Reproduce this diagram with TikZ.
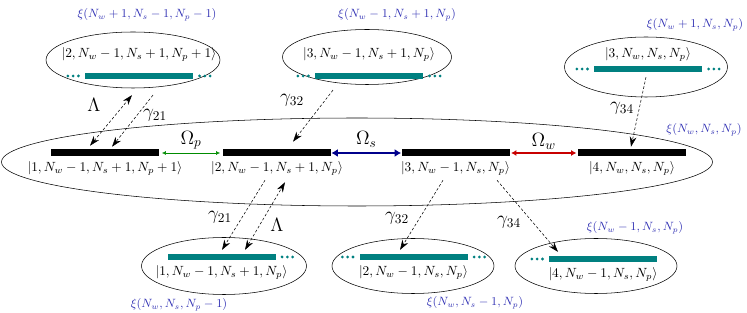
\documentclass[tikz,border=0pt]{standalone}
\usepackage{amsmath,amssymb}
\usepackage{tikz}
\usetikzlibrary{arrows.meta,positioning,shapes}

\definecolor{xiblue}{RGB}{50,50,180}
\definecolor{barteal}{RGB}{0,128,128}
\definecolor{omsnavy}{RGB}{0,0,140}
\definecolor{omwred}{RGB}{200,0,0}
\definecolor{ompgreen}{RGB}{0,140,0}

\begin{document}
\begin{tikzpicture}[x=0.75pt, y=-0.75pt,
    level/.style={rectangle, fill=black, minimum width=81pt, minimum height=5.25pt, inner sep=0pt},
    sub/.style={rectangle, fill=barteal, minimum width=81pt, minimum height=5pt, inner sep=0pt},
    grp/.style={ellipse, draw, inner sep=0pt},
    ket/.style={inner sep=1pt},
    xi/.style={text=xiblue, font=\small},
    dots/.style={minimum width=11pt, minimum height=4pt, inner sep=0pt,
        path picture={\foreach \d in {-1,0,1} \fill[barteal] (path picture bounding box.center) ++(\d*4pt,0) circle (1.15pt);}},
    rate/.style={font=\Large},
    decay/.style={dash pattern=on 2pt off 1.5pt, -{Stealth[length=7.5pt,width=5pt]}},
    pump/.style={dash pattern=on 2pt off 1.5pt, {Stealth[length=7.5pt,width=5pt]}-{Stealth[length=7.5pt,width=5pt]}},
    omp/.style={ompgreen, line width=0.5pt, {Latex[length=3pt,width=3pt]}-{Latex[length=3pt,width=3pt]}, shorten <=2pt, shorten >=2pt},
    oms/.style={omsnavy, line width=2pt, {Latex[length=5pt,width=6pt]}-{Latex[length=5pt,width=6pt]}},
    omw/.style={omwred, line width=1pt, {Latex[length=4pt,width=4.5pt]}-{Latex[length=4pt,width=4.5pt]}, shorten <=1pt, shorten >=1pt}]
    \useasboundingbox (0,0) rectangle (747,313);

    % ellipses
    \node[grp, minimum width=533.25pt, minimum height=66pt] (manifold) at (357,162) {};
    \node[grp, minimum width=130.5pt, minimum height=42pt] (up1) at (133,60) {};
    \node[grp, minimum width=126.75pt, minimum height=41.25pt] (up2) at (367,57) {};
    \node[grp, minimum width=122.25pt, minimum height=45pt] (up3) at (646,67) {};
    \node[grp, minimum width=123.75pt, minimum height=42.75pt] (dn1) at (224,266) {};
    \node[grp, minimum width=121.5pt, minimum height=41.25pt] (dn2) at (413,266) {};
    \node[grp, minimum width=121.5pt, minimum height=41.25pt] (dn3) at (596,266) {};

    % levels of the driven manifold
    \node[level] (lev1) at (105,153) {};
    \node[level] (lev2) at (277,153) {};
    \node[level] (lev3) at (455.5,153) {};
    \node[level] (lev4) at (632,153) {};
    \node[ket, below=2.5pt of lev1] (k1) {$|1,N_w-1,N_s+1,N_p+1\rangle$};
    \node[ket, below=2.5pt of lev2] (k2) {$|2,N_w-1,N_s+1,N_p\rangle$};
    \node[ket, below=2.5pt of lev3] (k3) {$|3,N_w-1,N_s,N_p\rangle$};
    \node[ket, below=2.5pt of lev4] (k4) {$|4,N_w,N_s,N_p\rangle$};
    \draw[omp] (lev1) -- node[rate, above=-1pt, text=black] {$\Omega_p$} (lev2);
    \draw[oms] (lev2) -- node[rate, above=0pt, text=black] {$\Omega_s$} (lev3);
    \draw[omw] (lev3) -- node[rate, above=-1pt, text=black] {$\Omega_w$} (lev4);

    % neighbouring manifolds, top
    \node[sub] (tb1) at (139,76) {};
    \node[dots, left=3pt of tb1] {};
    \node[dots, right=3pt of tb1] {};
    \node[ket, above=7pt of tb1] (ku1) {$|2,N_w-1,N_s+1,N_p+1\rangle$};
    \node[sub] (tb2) at (369,76) {};
    \node[dots, left=3pt of tb2] {};
    \node[dots, right=3pt of tb2] {};
    \node[ket, above=7pt of tb2] (ku2) {$|3,N_w-1,N_s+1,N_p\rangle$};
    \node[sub] (tb3) at (648,69) {};
    \node[dots, left=3pt of tb3] {};
    \node[dots, right=3pt of tb3] {};
    \node[ket, above=2pt of tb3] (ku3) {$|3,N_w,N_s,N_p\rangle$};

    % neighbouring manifolds, bottom
    \node[sub] (bb1) at (221.5,257) {};
    \node[dots, right=3pt of bb1] {};
    \node[ket, below=2.5pt of bb1] (kd1) {$|1,N_w-1,N_s+1,N_p\rangle$};
    \node[sub] (bb2) at (413.5,257) {};
    \node[dots, left=3pt of bb2] {};
    \node[dots, right=3pt of bb2] {};
    \node[ket, below=2.5pt of bb2] (kd2) {$|2,N_w-1,N_s,N_p\rangle$};
    \node[sub] (bb3) at (603,259) {};
    \node[dots, left=3pt of bb3] {};
    \node[ket, below=2.5pt of bb3] (kd3) {$|4,N_w-1,N_s,N_p\rangle$};

    % manifold labels
    \node[xi] (xiu1) at (147,15) {$\xi(N_w+1,N_s-1,N_p-1)$};
    \node[xi] (xiu2) at (397,15) {$\xi(N_w-1,N_s+1,N_p)$};
    \node[xi] (xiu3) at (695,25) {$\xi(N_w+1,N_s,N_p)$};
    \node[xi] (xi0) at (704,130) {$\xi(N_w,N_s,N_p)$};
    \node[xi] (xid1) at (179,305) {$\xi(N_w,N_s,N_p-1)$};
    \node[xi] (xid2) at (475,303) {$\xi(N_w,N_s-1,N_p)$};
    \node[xi] (xid3) at (635,228) {$\xi(N_w-1,N_s,N_p)$};

    % incoherent couplings
    \draw[pump] ([shift={(-15,-3.5)}]lev1.north) -- ([shift={(-7,15.5)}]tb1.south);
    \draw[decay] ([shift={(14,15.5)}]tb1.south) -- ([shift={(7,-2.5)}]lev1.north);
    \draw[decay] ([shift={(-36,10.5)}]tb2.south) -- ([shift={(16,-7.5)}]lev2.north);
    \draw[decay] ([shift={(-2,4.5)}]tb3.south) -- ([shift={(-1,-2.5)}]lev4.north);
    \draw[decay] ([shift={(-12,23.5)}]lev2.south) -- ([shift={(0.5,-3.5)}]bb1.north);
    \draw[pump] ([shift={(23.5,-3.5)}]bb1.north) -- ([shift={(8,25.5)}]lev2.south);
    \draw[decay] ([shift={(-12.5,23.5)}]lev3.south) -- ([shift={(-13.5,-3.5)}]bb2.north);
    \draw[decay] ([shift={(41.5,23.5)}]lev3.south) -- ([shift={(-45,-3.5)}]bb3.north);
    \node[rate] (lamu) at (94,105) {$\Lambda$};
    \node[rate] (g21u) at (155,115) {$\gamma_{21}$};
    \node[rate] (g32u) at (292,100) {$\gamma_{32}$};
    \node[rate] (g34u) at (622,108) {$\gamma_{34}$};
    \node[rate] (g21d) at (220,217) {$\gamma_{21}$};
    \node[rate] (lamd) at (277,225) {$\Lambda$};
    \node[rate] (g32d) at (397,218) {$\gamma_{32}$};
    \node[rate] (g34d) at (509,222) {$\gamma_{34}$};
\end{tikzpicture}
\end{document}
